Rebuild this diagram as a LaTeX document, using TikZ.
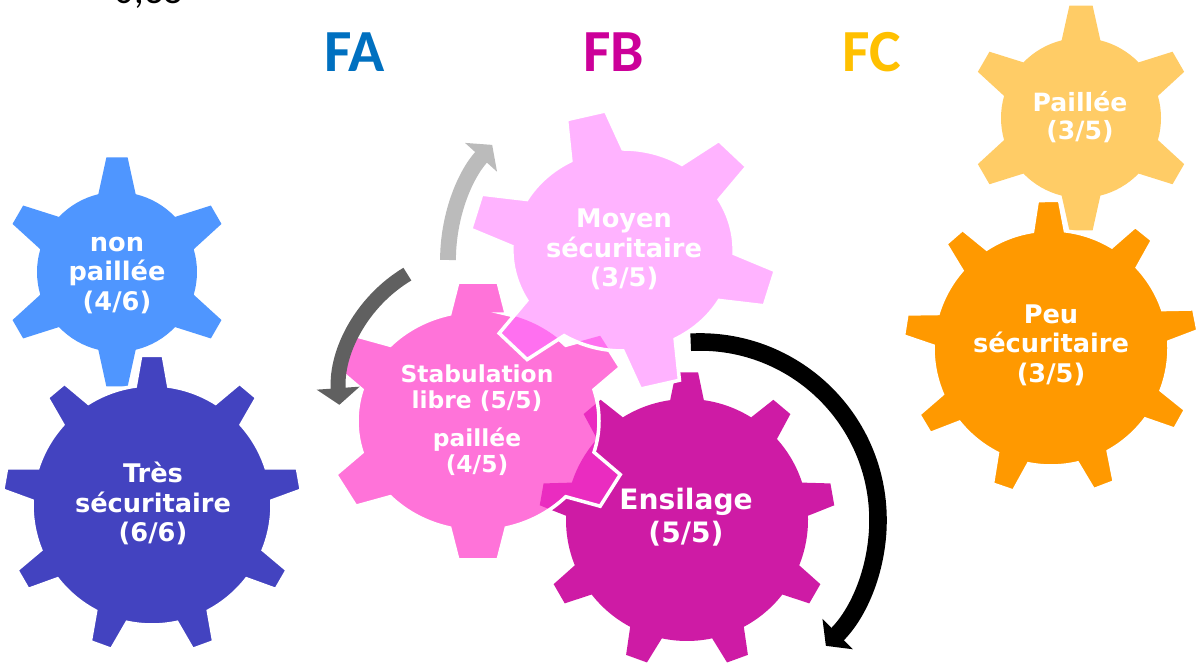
\documentclass[tikz,border=0pt]{standalone}
\usepackage{fontspec}
\usetikzlibrary{arrows.meta}
\newfontfamily\gearfont{DejaVu Sans}
\newfontfamily\titlefont{Carlito}

\definecolor{cNonp}{RGB}{79,150,255}
\definecolor{cTres}{RGB}{67,67,192}
\definecolor{cPail}{RGB}{255,204,102}
\definecolor{cPeu}{RGB}{255,153,0}
\definecolor{cMoyen}{RGB}{255,179,255}
\definecolor{cStab}{RGB}{255,115,217}
\definecolor{cEnsil}{RGB}{206,27,165}
\definecolor{cMixA}{RGB}{234,44,192}
\definecolor{cMixB}{RGB}{255,112,240}
\definecolor{cFA}{RGB}{0,112,192}
\definecolor{cFB}{RGB}{204,0,153}
\definecolor{cFC}{RGB}{255,192,0}
\definecolor{cLightGrey}{RGB}{187,187,187}
\definecolor{cDarkGrey}{RGB}{96,96,96}

% teeth, body radius, tip radius, tip half angle, base half angle, first tooth angle
\newcommand\gearpath[6]{%
  ({#6-#5}:#2) \foreach \t [evaluate=\t as \a using #6+(\t-1)*360/#1] in {1,...,#1}{
    -- ({\a-#4}:#3) -- ({\a+#4}:#3) -- ({\a+#5}:#2)
    arc[start angle={\a+#5}, end angle={\a+360/#1-#5}, radius=#2]} -- cycle}

\tikzset{
  gearlabel/.style={text=white, align=center, inner sep=0pt,
    font=\gearfont\bfseries\fontsize{14.6}{16.8}\selectfont},
  farm/.style={anchor=base, font=\titlefont\bfseries\fontsize{34}{40}\selectfont},
  gearrim/.style={draw=white, line width=2pt},
  turnarrow/.style={line width=#1, -{Triangle[width=24pt, length=9.5pt]}},
}

\begin{document}
\begin{tikzpicture}[x=0.02cm, y=0.02cm]
    \useasboundingbox (0,0) rectangle (1200,671);
    \fill[white] (0,0) rectangle (1200,671);

    \coordinate (gNonp) at (117,399);
    \coordinate (gTres) at (152,166);
    \coordinate (gPail) at (1081,553);
    \coordinate (gPeu) at (1051,323);
    \coordinate (gMoyen) at (623,421);
    \coordinate (gStab) at (478,250);
    \coordinate (gEnsil) at (687,151);

    % left pair
    \fill[cNonp, shift={(gNonp)}] \gearpath{6}{80}{115}{5.3}{13.5}{90};
    \fill[cTres, gearrim, shift={(gTres)}] \gearpath{9}{120}{150}{4.3}{8}{90};

    % right pair
    \fill[cPail, shift={(gPail)}] \gearpath{6}{80}{113}{5.9}{14}{90};
    \fill[cPeu, gearrim, shift={(gPeu)}] \gearpath{9}{118}{148}{4.3}{8}{91};

    % middle three
    \fill[cEnsil, shift={(gEnsil)}] \gearpath{9}{121}{148}{4.3}{8}{90};
    \fill[cStab, shift={(gStab)}, xscale=1.1] \gearpath{6}{110}{140}{7.5}{13.5}{90};
    \begin{scope}
        \clip[shift={(gStab)}, xscale=1.1] \gearpath{6}{110}{140}{7.5}{13.5}{90};
        \fill[cMixA, shift={(gEnsil)}] \gearpath{9}{121}{148}{4.3}{8}{90};
    \end{scope}
    \draw[gearrim, shift={(gStab)}, xscale=1.1] \gearpath{6}{110}{140}{7.5}{13.5}{90};
    \fill[cMoyen, shift={(gMoyen)}, xscale=1.1] \gearpath{6}{101}{140}{7.5}{14}{104};
    \begin{scope}
        \clip[shift={(gMoyen)}, xscale=1.1] \gearpath{6}{101}{140}{7.5}{14}{104};
        \fill[cMixB, shift={(gStab)}, xscale=1.1] \gearpath{6}{110}{140}{7.5}{13.5}{90};
    \end{scope}
    \draw[gearrim, shift={(gMoyen)}, xscale=1.1] \gearpath{6}{101}{140}{7.5}{14}{104};

    % turning arrows
    \draw[turnarrow=9pt, cLightGrey] (gMoyen) ++(-3,-10) ++(180:172) arc[start angle=180, end angle=138, radius=172];
    \draw[turnarrow=8.5pt, cDarkGrey] (gStab) ++(2,26) ++(121:141) arc[start angle=121, end angle=184, radius=141];
    \draw[turnarrow=10pt, black] (gEnsil) ++(13,0) ++(93:178) arc[start angle=93, end angle=-45, radius=178];

    % labels
    \node[gearlabel] (nonp) at (117,395.5) {non\\paillée\\(4/6)};
    \node[gearlabel] (tres) at (153,167.5) {Très\\sécuritaire\\(6/6)};
    \node[gearlabel] (moyen) at (624,421.5) {Moyen\\sécuritaire\\(3/5)};
    \node[gearlabel, font=\gearfont\bfseries\fontsize{13.3}{14.7}\selectfont] (stab) at (477,251) {Stabulation\\libre (5/5)\\[7pt]paillée\\(4/5)};
    \node[gearlabel, font=\gearfont\bfseries\fontsize{16}{18.7}\selectfont] (ensil) at (686,153.5) {Ensilage\\(5/5)};
    \node[gearlabel, font=\gearfont\bfseries\fontsize{14.3}{15.9}\selectfont] (pail) at (1080,553.5) {Paillée\\(3/5)};
    \node[gearlabel] (peu) at (1051,326) {Peu\\sécuritaire\\(3/5)};

    \node[farm, text=cFA] (fa) at (355,599) {FA};
    \node[farm, text=cFB] (fb) at (614,599) {FB};
    \node[farm, text=cFC] (fc) at (872,599) {FC};
    \node[anchor=base, font=\titlefont\fontsize{22}{26}\selectfont] (score) at (149,667.5) {0,38};
\end{tikzpicture}
\end{document}
